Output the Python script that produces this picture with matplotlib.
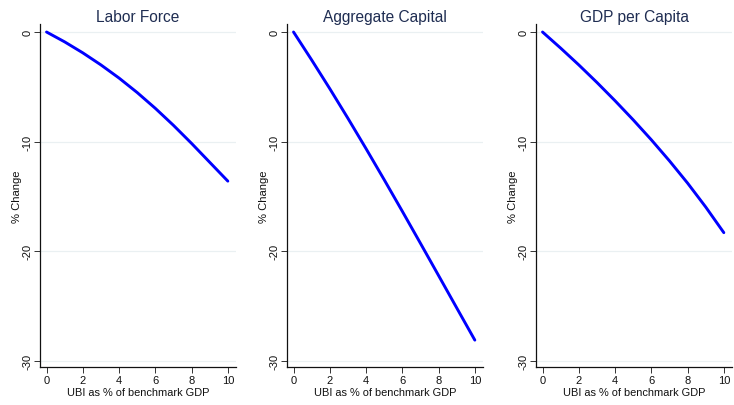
import matplotlib
matplotlib.use("Agg")
import matplotlib.pyplot as plt

plt.rcParams['font.family'] = ['Liberation Sans', 'DejaVu Sans']

# UBI size (% of benchmark GDP) and the resulting % change in each aggregate
ubi = [0, 1, 2, 3, 4, 5, 6, 7, 8, 9, 10]
labor_force = [0, -0.9, -1.9, -3.0, -4.2, -5.52, -6.96, -8.51, -10.16, -11.88, -13.6]
aggregate_capital = [0, -2.55, -5.17, -7.87, -10.64, -13.47, -16.35, -19.27, -22.21, -25.16, -28.1]
gdp_per_capita = [0, -1.47, -3.0, -4.6, -6.27, -8.01, -9.83, -11.75, -13.78, -15.96, -18.3]

titles = ["Labor Force", "Aggregate Capital", "GDP per Capita"]
series = [labor_force, aggregate_capital, gdp_per_capita]
x_ticks = [0, 2, 4, 6, 8, 10]
y_ticks = [0, -10, -20, -30]

W, H = 734, 406
fig = plt.figure(figsize=(W / 100, H / 100), dpi=100)

lefts = [40, 287, 536]
ax_w = 196
bottom_px, top_px = 368, 25

for left, title, vals in zip(lefts, titles, series):
    ax = fig.add_axes([left / W, 1 - bottom_px / H, ax_w / W, (bottom_px - top_px) / H])
    ax.plot(ubi, vals, color="#0000ff", lw=2.1, solid_capstyle="round",
            solid_joinstyle="round")
    ax.set_xlim(-0.36, 10.45)
    ax.set_ylim(-30.55, 0.73)
    ax.set_xticks(x_ticks)
    ax.set_yticks(y_ticks)
    ax.set_yticklabels([str(t) for t in y_ticks], rotation=90, va="center")
    ax.grid(axis="y", color="#eaf0f2", lw=0.9)
    ax.set_axisbelow(True)
    for s in ["top", "right"]:
        ax.spines[s].set_visible(False)
    for s in ["left", "bottom"]:
        ax.spines[s].set_color("#111111")
        ax.spines[s].set_linewidth(0.9)
    ax.tick_params(axis="both", direction="out", length=4, width=0.7,
                   color="#333333", labelsize=8, labelcolor="#111111", pad=2)
    ax.tick_params(axis="y", pad=1.5)
    ax.set_title(title, fontsize=11.2, color="#1f2d52", pad=1.8)
    ax.set_xlabel("UBI as % of benchmark GDP", fontsize=7.9, color="#111111", labelpad=1)
    ax.set_ylabel("% Change", fontsize=8.1, color="#111111", labelpad=0.5)

fig.savefig("out.png", dpi=100, facecolor="white")
